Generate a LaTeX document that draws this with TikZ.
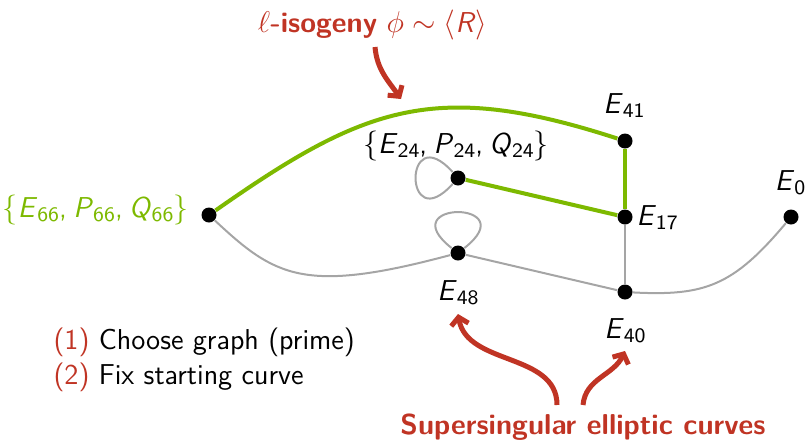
\documentclass[tikz,border=0pt]{standalone}
\usetikzlibrary{arrows.meta}
\definecolor{myred}{RGB}{192,52,36}
\definecolor{mygreen}{RGB}{125,185,0}
\definecolor{mygray}{RGB}{165,165,165}
\newcommand\mysub[1]{\raisebox{-1.7pt}{\fontsize{8.2}{9}\selectfont #1}}
\newcommand\Ev[2]{\textit{#1}\mysub{#2}}
\newcommand\cm{,\kern0.22em}
\begin{document}
\begin{tikzpicture}[x=0.4pt,y=0.4pt,
  font=\sffamily\fontsize{11.5}{14}\selectfont,
  dot/.style={circle,fill=black,inner sep=0pt,minimum size=6pt},
  lbl/.style={inner sep=0pt},
  gedge/.style={draw=mygray,line width=0.8pt},
  hedge/.style={draw=mygreen,line width=1.6pt},
  rarrow/.style={draw=myred,line width=2pt,-{Straight Barb[length=3pt,width=7pt]}}]
\useasboundingbox (0,0) rectangle (806,442);

% vertices
\node[dot] (e66) at (209,227) {};
\node[dot] (e24) at (458,264) {};
\node[dot] (e41) at (625,301) {};
\node[dot] (e17) at (625,225) {};
\node[dot] (e0)  at (791,225) {};
\node[dot] (e48) at (458,189) {};
\node[dot] (e40) at (625,150) {};

% labels
\node[lbl,anchor=base east,text=mygreen] (t66) at (189,225)
  {$\{$\Ev{E}{66}\cm\Ev{P}{66}\cm\Ev{Q}{66}$\}$};
\node[lbl,anchor=base] (t24) at (456,289)
  {$\{$\Ev{E}{24}\cm\Ev{P}{24}\cm\Ev{Q}{24}$\}$};
\node[lbl,anchor=base] (t41) at (624,329) {\Ev{E}{41}};
\node[lbl,anchor=base west] (t17) at (636,217) {\Ev{E}{17}};
\node[lbl,anchor=base] (t0) at (790,252) {\Ev{E}{0}};
\node[lbl,anchor=base] (t48) at (458,142) {\Ev{E}{48}};
\node[lbl,anchor=base] (t40) at (625,104) {\Ev{E}{40}};

% gray edges
\draw[gedge] (e66) .. controls +(-43:90) and +(195:160) .. (e48);
\draw[gedge] (e48) .. controls +(142:86) and +(38:86) .. (e48);
\draw[gedge] (e24) .. controls +(132:82) and +(228:82) .. (e24);
\draw[gedge] (e48) -- (e40);
\draw[gedge] (e17) -- (e40);
\draw[gedge] (e40) .. controls +(-3:80) and +(230:90) .. (e0);

% green edges
\draw[hedge] (e66) .. controls +(35:190) and +(162:200) .. (e41);
\draw[hedge] (e41) -- (e17);
\draw[hedge] (e24) -- (e17);

% annotations
\node[lbl,anchor=base east,text=myred] (title) at (488,410)
  {$\ell$\textbf{-isogeny} $\phi\sim\langle\mbox{\textit{R}}\rangle$};
\node[lbl,anchor=base,text=myred] (ss) at (583,8)
  {\textbf{Supersingular elliptic curves}};
\node[lbl,anchor=base west] (l1) at (53,93)
  {\textcolor{myred}{(1)} Choose graph (prime)};
\node[lbl,anchor=base west] (l2) at (53,58)
  {\textcolor{myred}{(2)} Fix starting curve};

\coordinate (a1s) at (375,395);
\coordinate (a1e) at (401,343);
\coordinate (a2s) at (557,37);
\coordinate (a2e) at (458,128);
\coordinate (a3s) at (583,37);
\coordinate (a3e) at (625,91);
\draw[rarrow] (a1s) to[out=-85,in=125] (a1e);
\draw[rarrow] (a2s) to[out=90,in=-80] (a2e);
\draw[rarrow] (a3s) to[out=85,in=-115] (a3e);
\end{tikzpicture}
\end{document}
